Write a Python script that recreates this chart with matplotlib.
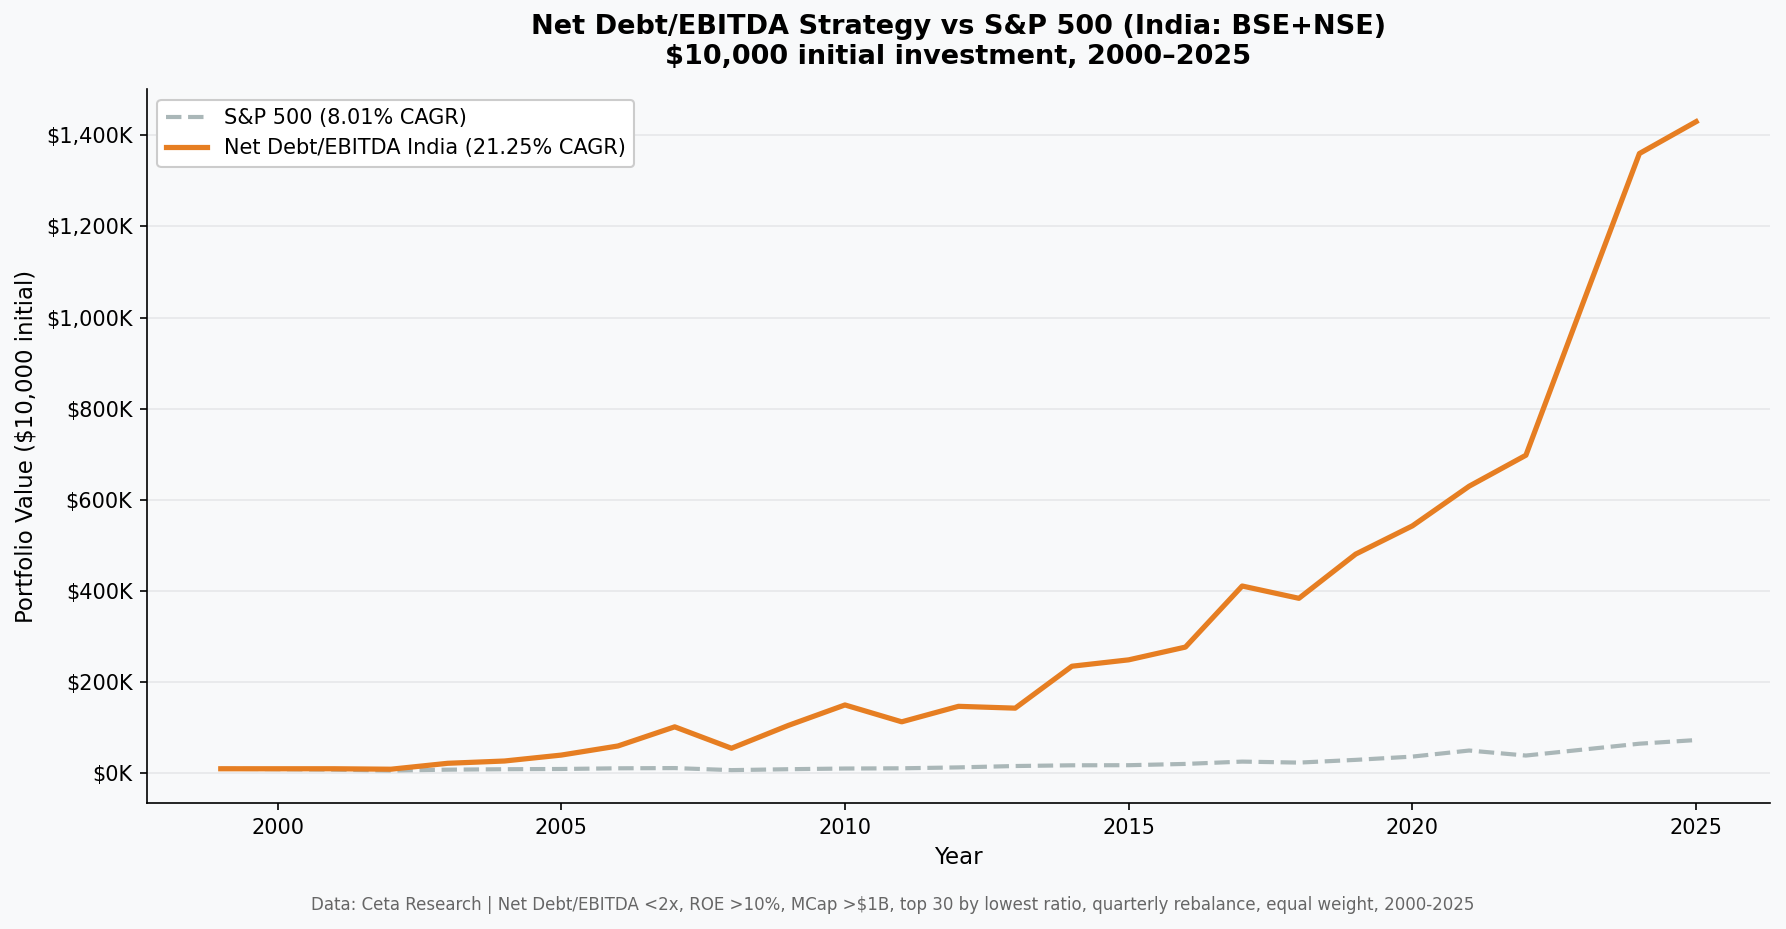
import numpy as np
import matplotlib.pyplot as plt
from matplotlib.ticker import FuncFormatter

years = list(range(1999, 2026))
strategy = [10, 10, 10, 9, 22, 27, 40, 60, 102, 55, 105, 150, 113, 147, 143,
            235, 249, 277, 411, 384, 481, 543, 630, 698, 1030, 1360, 1430]
sp500 = [10, 9, 8, 6, 8, 9, 9.5, 11, 11.5, 7, 9, 10.5, 11, 13, 16, 17.6,
         17.8, 20.6, 25.7, 23.5, 29.5, 36.7, 50, 39, 52, 65, 73]

strategy = np.array(strategy) * 1000
sp500 = np.array(sp500) * 1000

bg = "#f8f9fa"
fig = plt.figure(figsize=(1786 / 150, 929 / 150), dpi=150, facecolor=bg)
ax = fig.add_axes([0.0823, 0.1356, 0.9087, 0.7684], facecolor=bg)

ax.plot(years, sp500, color="#aab7b8", lw=2, ls="--", label="S&P 500 (8.01% CAGR)")
ax.plot(years, strategy, color="#e67e22", lw=2.5, label="Net Debt/EBITDA India (21.25% CAGR)")

ax.yaxis.set_major_formatter(FuncFormatter(lambda v, p: f"${v / 1000:,.0f}K"))
ax.grid(True, axis="y", color="#e6e8ea", lw=0.8)
ax.set_axisbelow(True)
for spine in ["top", "right"]:
    ax.spines[spine].set_visible(False)

ax.tick_params(axis="both", labelsize=10)
ax.set_xlabel("Year", fontsize=11)
ax.set_ylabel("Portfolio Value ($10,000 initial)", fontsize=11)
ax.legend(loc="upper left", fontsize=10, framealpha=1, edgecolor="#cccccc")

# title centred over the axes, not the figure
fig.text(0.0823 + 0.9087 / 2, 0.985,
         "Net Debt/EBITDA Strategy vs S&P 500 (India: BSE+NSE)\n$10,000 initial investment, 2000\u20132025",
         ha="center", va="top", multialignment="center", fontsize=13, fontweight="bold")
fig.text(0.5, 0.026, "Data: Ceta Research | Net Debt/EBITDA <2x, ROE >10%, MCap >$1B, top 30 by lowest ratio, "
         "quarterly rebalance, equal weight, 2000-2025", ha="center", va="center", fontsize=8, color="#666666")

plt.savefig("out.png", dpi=150, facecolor=bg)
